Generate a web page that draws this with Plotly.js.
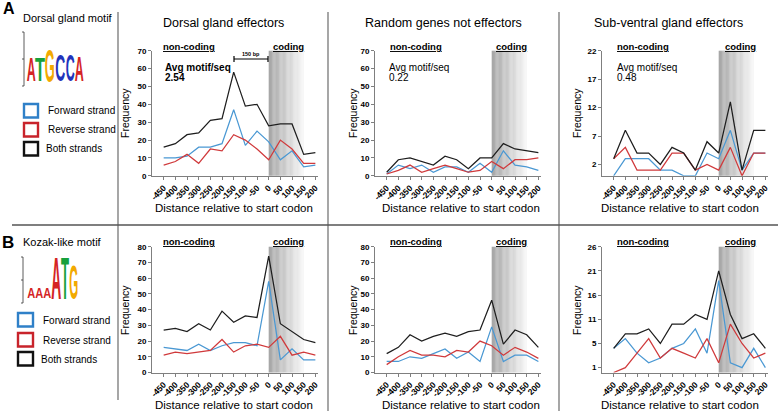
<!DOCTYPE html>
<html>
<head>
<meta charset="utf-8">
<script src="https://cdn.plot.ly/plotly-3.0.1.min.js"></script>
<style>
  html, body { margin: 0; padding: 0; background: #fff; }
  #chart { width: 778px; height: 411px; }
</style>
</head>
<body>
<div id="chart"></div>
<script>
// positions relative to the start codon (bp)
var distance = [-450, -400, -350, -300, -250, -200, -150, -100, -50, 0, 50, 100, 150, 200];

// A: dorsal gland motif
var dorsalFwd  = [10, 10, 11, 16, 16, 18, 37, 17, 25, 19, 9, 14, 5, 6];
var dorsalRev  = [6, 8, 12, 7, 15, 14, 23, 20, 15, 9, 20, 15, 7, 7];
var dorsalBoth = [16, 18, 23, 24, 31, 32, 58, 39, 40, 28, 29, 29, 12, 13];

var randomFwd  = [1, 6, 4, 6, 2, 5, 5, 2, 7, 2, 14, 6, 5, 3];
var randomRev  = [1, 3, 6, 2, 4, 6, 4, 2, 3, 8, 4, 9, 9, 10];
var randomBoth = [2, 9, 10, 8, 6, 11, 9, 4, 10, 10, 18, 15, 14, 13];

var subvenFwd  = [0, 3, 3, 3, 1, 1, 0, 0, 4, 3, 8, 1, 4, 4];
var subvenRev  = [3, 5, 1, 1, 1, 4, 4, 1, 2, 1, 5, 0, 4, 4];
var subvenBoth = [3, 8, 4, 4, 2, 5, 4, 1, 6, 4, 13, 1, 8, 8];

// B: Kozak-like motif
var kozDorsalFwd  = [16, 15, 14, 18, 14, 17, 19, 19, 17, 58, 8, 15, 8, 8];
var kozDorsalRev  = [11, 13, 12, 13, 14, 21, 13, 17, 18, 16, 23, 11, 13, 11];
var kozDorsalBoth = [27, 28, 26, 31, 27, 39, 32, 36, 35, 74, 31, 26, 21, 19];

var kozRandomFwd  = [7, 7, 10, 9, 12, 15, 9, 13, 7, 29, 7, 11, 11, 7];
var kozRandomRev  = [5, 10, 14, 11, 11, 10, 14, 13, 20, 17, 11, 16, 13, 9];
var kozRandomBoth = [12, 16, 24, 20, 23, 25, 23, 26, 27, 46, 18, 27, 24, 16];

var kozSubvenFwd  = [5, 7, 4, 2, 3, 5, 6, 9, 4, 19, 2, 1, 5, 1];
var kozSubvenRev  = [0, 1, 4, 7, 3, 5, 4, 3, 7, 2, 10, 6, 3, 4];
var kozSubvenBoth = [5, 8, 8, 9, 6, 10, 10, 12, 11, 21, 12, 7, 8, 5];

var panelTitles = ['Dorsal gland effectors', 'Random genes not effectors', 'Sub-ventral gland effectors'];
var avgMotif = ['2.54', '0.22', '0.48'];
var strandNames = ['Forward strand', 'Reverse strand', 'Both strands'];

var codingStart = 0, codingEnd = 150;

var W = 778, H = 411;
var FONT = 'Arial, "Liberation Sans", sans-serif';
var BLUE = '#4a98d3', RED = '#d03a3c', BLACK = '#1e1e1e';
var AXIS = '#7f7f7f';

function px(x) { return x / W; }
function py(y) { return 1 - y / H; }

// text placed by pixel position; anchors given explicitly
function label(x, y, text, font, extra) {
  var a = {xref: 'paper', yref: 'paper', x: px(x), y: py(y), text: text, showarrow: false,
    xanchor: 'center', yanchor: 'middle', font: font};
  for (var k in extra) a[k] = extra[k];
  layout.annotations.push(a);
  return layout.annotations.length - 1;
}

// plot boxes in pixels
var colLeft = [152, 375, 602];
var colWidth = 165.7;
var rowTop = [50.7, 246.7], rowBottom = [175.8, 372.5];

var series = [
  [dorsalFwd, dorsalRev, dorsalBoth],
  [randomFwd, randomRev, randomBoth],
  [subvenFwd, subvenRev, subvenBoth],
  [kozDorsalFwd, kozDorsalRev, kozDorsalBoth],
  [kozRandomFwd, kozRandomRev, kozRandomBoth],
  [kozSubvenFwd, kozSubvenRev, kozSubvenBoth]
];
var yRanges = [[0, 70], [0, 70], [0, 22], [0, 80], [0, 80], [0, 26]];
var yTickVals = [
  [0, 10, 20, 30, 40, 50, 60, 70], [0, 10, 20, 30, 40, 50, 60, 70], [2, 7, 12, 17, 22],
  [0, 10, 20, 30, 40, 50, 60, 70, 80], [0, 10, 20, 30, 40, 50, 60, 70, 80], [1, 6, 11, 16, 21, 26]
];
var yTickText = [null, null, null, null, null, ['1', '5', '11', '16', '21', '26']];

var traces = [];
var layout = {
  width: W, height: H,
  margin: {l: 0, r: 0, t: 0, b: 0},
  paper_bgcolor: '#fff', plot_bgcolor: 'rgba(0,0,0,0)',
  showlegend: false,
  font: {family: FONT, color: '#000'},
  shapes: [], annotations: []
};

var colors = [BLUE, RED, BLACK];
for (var p = 0; p < 6; p++) {
  var row = p < 3 ? 0 : 1, col = p % 3;
  var sfx = p === 0 ? '' : String(p + 1);
  for (var s = 0; s < 3; s++) {
    traces.push({
      x: distance, y: series[p][s], type: 'scatter', mode: 'lines',
      line: {color: colors[s], width: 1.25},
      xaxis: 'x' + sfx, yaxis: 'y' + sfx, hoverinfo: 'skip'
    });
  }
  layout['xaxis' + sfx] = {
    domain: [px(colLeft[col]), px(colLeft[col] + colWidth)],
    anchor: 'y' + sfx, range: [-500, 210],
    tickvals: distance, ticktext: distance.map(String), tickangle: -45,
    tickfont: {size: 8.5, weight: 'bold'},
    showgrid: false, zeroline: false, showline: true, linecolor: AXIS, linewidth: 1,
    ticks: 'outside', ticklen: 3, tickcolor: AXIS
  };
  layout['yaxis' + sfx] = {
    domain: [py(rowBottom[row]), py(rowTop[row])],
    anchor: 'x' + sfx, range: yRanges[p],
    tickvals: yTickVals[p], ticktext: yTickText[p] || yTickVals[p].map(String),
    tickfont: {size: 8, weight: 'bold'},
    showgrid: false, zeroline: false, showline: true, linecolor: AXIS, linewidth: 1,
    ticks: 'outside', ticklen: 3, tickcolor: AXIS
  };

  // coding region shading, fading to white
  var steps = 30;
  for (var k = 0; k < steps; k++) {
    var c = Math.round(165 + (246 - 165) * k / (steps - 1));
    layout.shapes.push({
      type: 'rect', xref: 'x' + sfx, yref: 'y' + sfx + ' domain', layer: 'below',
      x0: codingStart + (codingEnd - codingStart) * k / steps,
      x1: codingStart + (codingEnd - codingStart) * (k + 1) / steps + 0.5,
      y0: 0, y1: 1, line: {width: 0}, fillcolor: 'rgb(' + c + ',' + c + ',' + c + ')'
    });
  }

  // region labels
  var labY = row === 0 ? 47 : 242;
  label([189, 416, 643][col], labY, 'non-coding', {size: 9.5, weight: 'bold', lineposition: 'under'});
  label([288, 512, 740][col], labY, 'coding', {size: 9.5, weight: 'bold', lineposition: 'under'});

  // axis titles
  label([125, 353, 577][col], row === 0 ? 113 : 310, 'Frequency', {size: 10.5}, {textangle: -90});
  label([234, 461, 680][col], row === 0 ? 208 : 405, 'Distance relative to start codon', {size: 11.5});
}

// panel titles and average motif counts
for (var col = 0; col < 3; col++) {
  label([223, 443, 668][col], 23, panelTitles[col], {size: 12.5});
  var ax = [163, 387, 615][col];
  var wgt = col === 0 ? 'bold' : 'normal';
  label(ax, 67, 'Avg motif/seq', {size: 10, weight: wgt}, {xanchor: 'left'});
  label(ax, 77.5, avgMotif[col], {size: 10, weight: wgt}, {xanchor: 'left'});
}

// 150 bp bracket
function seg(x0, y0, x1, y1, color, w) {
  layout.shapes.push({type: 'line', xref: 'paper', yref: 'paper', x0: px(x0), x1: px(x1), y0: py(y0), y1: py(y1), line: {color: color, width: w}});
}
seg(234, 59, 268, 59, '#000', 1.2);
seg(234, 56, 234, 62, '#000', 1.2);
seg(268, 56, 268, 62, '#000', 1.2);
label(251, 54, '150 bp', {size: 5.5, weight: 'bold'});

// dividers
seg(118, 12, 118, 400, '#777', 1.3);
seg(328, 12, 328, 411, '#777', 1.3);
seg(559, 12, 559, 411, '#777', 1.3);
seg(12, 225, 778, 225, '#555', 1.3);

// panel letters and motif names
label(1, 9, 'A', {size: 16, weight: 'bold'}, {xanchor: 'left'});
label(0, 242.5, 'B', {size: 17, weight: 'bold'}, {xanchor: 'left'});
label(68, 18, 'Dorsal gland motif', {size: 11});
label(21, 242, 'Kozak-like motif', {size: 11}, {xanchor: 'left'});

// strand key boxes
var keyColors = ['#2f80c8', '#c8232b', '#111'];
var keyA = {x: 24, w: 14, y: [104, 123, 142], lx: [46, 46, 44], ly: [110.5, 129.5, 148.5]};
var keyB = {x: 18, w: 15, y: [313, 333, 352], lx: [41, 41, 39], ly: [320, 340, 359]};
[keyA, keyB].forEach(function (kk) {
  for (var i = 0; i < 3; i++) {
    layout.shapes.push({type: 'rect', xref: 'paper', yref: 'paper',
      x0: px(kk.x), x1: px(kk.x + kk.w), y0: py(kk.y[i]), y1: py(kk.y[i] + 13.5),
      line: {color: keyColors[i], width: 2.4}, fillcolor: '#fff'});
    label(kk.lx[i], kk.ly[i], strandNames[i], {size: 10}, {xanchor: 'left'});
  }
});

// sequence logos: letters stretched after render
var LOGO_COLORS = {A: '#d42424', T: '#17a03c', G: '#f2a900', C: '#2233bb'};
var logoA = {letters: ['A', 'T', 'G', 'C', 'C', 'A'], x0: [26, 35, 45, 55, 65, 74], x1: [35, 45, 55, 65, 74, 83], h: [24, 24, 33, 27, 27, 25], base: 83, axisX: 24, axisTop: 32};
var logoB = {letters: ['A', 'A', 'A', 'A', 'T', 'G'], x0: [27, 35, 43, 51, 61, 69], x1: [35, 43, 51, 61, 69, 78], h: [10, 10, 10, 42, 42, 35], base: 300, axisX: 23, axisTop: 257};
var LOGO_F = 20;
var logoFits = [];
[logoA, logoB].forEach(function (lg) {
  lg.letters.forEach(function (ch, i) {
    var idx = label((lg.x0[i] + lg.x1[i]) / 2, lg.base, ch,
      {size: LOGO_F, weight: 'bold', color: LOGO_COLORS[ch]}, {yanchor: 'bottom'});
    logoFits.push({idx: idx, w: lg.x1[i] - lg.x0[i], h: lg.h[i]});
  });
  seg(lg.axisX, lg.axisTop, lg.axisX, lg.base + 3, '#333', 0.8);
  [lg.axisTop, (lg.axisTop + lg.base + 3) / 2, lg.base + 3].forEach(function (t) {
    seg(lg.axisX - 2, t, lg.axisX, t, '#333', 0.8);
  });
});

Plotly.newPlot('chart', traces, layout, {displayModeBar: false, staticPlot: true}).then(function (gd) {
  logoFits.forEach(function (f) {
    var g = gd.querySelector('g.annotation[data-index="' + f.idx + '"]');
    if (!g) return;
    var t = g.querySelector('text');
    var bb = t.getBBox();
    var cx = bb.x + bb.width / 2;
    var bottom = bb.y + bb.height;
    var baseline = bottom - 0.212 * LOGO_F;
    var sx = f.w / bb.width, sy = f.h / (0.716 * LOGO_F);
    t.setAttribute('transform', 'translate(' + cx + ',' + bottom + ') scale(' + sx + ',' + sy + ') translate(' + (-cx) + ',' + (-baseline) + ')');
  });
});
</script>
</body>
</html>
